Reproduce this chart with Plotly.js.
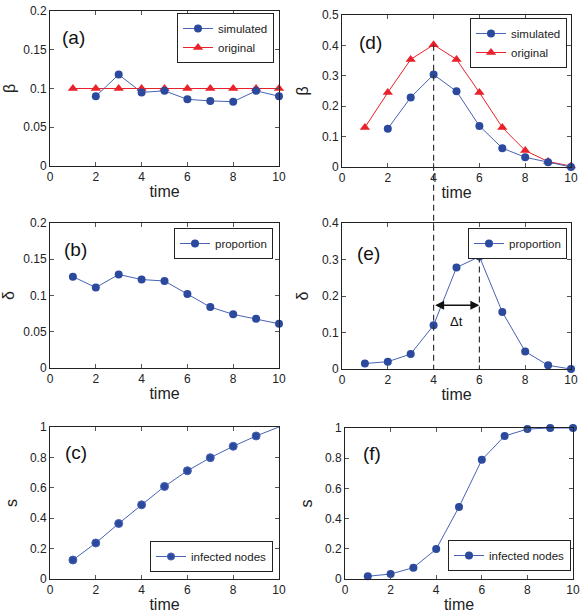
<!DOCTYPE html>
<html><head><meta charset="utf-8">
<script src="https://cdn.plot.ly/plotly-3.0.1.min.js"></script>
<style>html,body{margin:0;padding:0;background:#fff}</style>
</head><body><div id="chart" style="width:582px;height:613px"></div>
<script>
// ---- data ----
const time = [1,2,3,4,5,6,7,8,9,10];
const betaSimA  = [null,0.090,0.118,0.095,0.097,0.086,0.084,0.083,0.097,0.090];
const betaOrigA = [0.1,0.1,0.1,0.1,0.1,0.1,0.1,0.1,0.1,0.1];
const deltaB    = [0.126,0.111,0.129,0.122,0.120,0.102,0.084,0.074,0.068,0.061];
const sC        = [0.125,0.237,0.365,0.488,0.609,0.712,0.798,0.873,0.941,1.0];
const betaSimD  = [null,0.126,0.229,0.304,0.249,0.135,0.062,0.032,0.016,0.0];
const betaOrigD = [0.130,0.245,0.354,0.402,0.354,0.245,0.130,0.054,0.018,0.003];
const deltaE    = [0.015,0.020,0.041,0.120,0.278,0.308,0.156,0.048,0.010,0.0];
const sF        = [0.018,0.033,0.075,0.198,0.477,0.789,0.947,0.993,1.0,1.0];
const panelLabels = ['(a)','(b)','(c)','(d)','(e)','(f)'];
const yTitles = ['β','δ','s','β','δ','s'];
const xTitle = 'time';
const peakTime = 4, delayTime = 6;

// ---- layout geometry (pixels) ----
const W = 582, H = 613;
const boxes = {
  1:[50,279,11,166], 2:[50,279,223,368], 3:[50,279,427,579],
  4:[342,571,15,167], 5:[342,571,223,369], 6:[345,573,428,579]
};
const yRanges = {1:[0,0.2],2:[0,0.2],3:[0,1],4:[0,0.5],5:[0,0.4],6:[0,1]};
const yDticks = {1:0.05,2:0.05,3:0.2,4:0.1,5:0.1,6:0.2};
const yStand = {1:3,2:4,3:8,4:9,5:9,6:8};
const xDom = i => [boxes[i][0]/W, boxes[i][1]/W];
const yDom = i => [1-boxes[i][3]/H, 1-boxes[i][2]/H];

const BLUE = '#2b4a9e', BLUEL = '#4863b6', RED = '#e8212a', AX = '#222';
const FONT = 'Liberation Sans, Arial, Helvetica, sans-serif';

const layout = {
  width: W, height: H, margin:{l:0,r:0,t:0,b:0},
  paper_bgcolor:'#fff', plot_bgcolor:'#fff', showlegend:true,
  font:{family:FONT, color:AX, size:12},
  shapes:[], annotations:[]
};
for (let i=1;i<=6;i++){
  const xs = i===1?'':i, ys = i===1?'':i;
  layout['xaxis'+xs] = {
    domain:xDom(i), range:[0,10], dtick:2, tick0:0, anchor:'y'+ys,
    ticks:'inside', ticklen:4, tickcolor:'#555', showline:true, linecolor:AX, linewidth:1,
    mirror:'ticks', showgrid:false, zeroline:false, fixedrange:true,
    tickfont:{size:12,color:AX},
    title:{text:xTitle, font:{size:16,color:AX}, standoff:2}
  };
  layout['yaxis'+ys] = {
    domain:yDom(i), range:yRanges[i], dtick:yDticks[i], tick0:0, anchor:'x'+xs,
    ticks:'inside', ticklen:4, tickcolor:'#555', showline:true, linecolor:AX, linewidth:1,
    mirror:'ticks', showgrid:false, zeroline:false, fixedrange:true,
    tickfont:{size:12,color:AX},
    title:{text:yTitles[i-1], font:{size:16,color:AX}, standoff:yStand[i]}
  };
  layout.annotations.push({
    xref:(i===1?'x':'x'+i)+' domain', yref:(i===1?'y':'y'+i)+' domain',
    x:[0,0.042,0.052,0.057,0.065,0.055,0.072][i], y:[0,0.83,0.82,0.83,0.82,0.79,0.83][i],
    xanchor:'left', yanchor:'middle', showarrow:false, text:panelLabels[i-1],
    font:{size:19,color:'#111'}
  });
}

// legends
const legBase = {bgcolor:'#fff', bordercolor:AX, borderwidth:1, font:{size:11.5,color:AX},
  xanchor:'right', itemwidth:30, tracegroupgap:0};
layout.legend  = Object.assign({}, legBase, {x:274/W, y:1-13/H, yanchor:'top'});
layout.legend2 = Object.assign({}, legBase, {x:273/W, y:1-228/H, yanchor:'top'});
layout.legend3 = Object.assign({}, legBase, {x:273/W, y:1-572/H, yanchor:'bottom'});
layout.legend4 = Object.assign({}, legBase, {x:567/W, y:1-18/H, yanchor:'top'});
layout.legend5 = Object.assign({}, legBase, {x:567/W, y:1-228/H, yanchor:'top'});
layout.legend6 = Object.assign({}, legBase, {x:571/W, y:1-571/H, yanchor:'bottom'});

function blueTrace(y, i, name, leg, sizes){
  const xs = i===1?'':i;
  return {x:time, y:y, xaxis:'x'+xs, yaxis:'y'+xs, name:name, legend:leg,
    mode:'lines+markers', cliponaxis:false,
    line:{color:BLUEL,width:1}, marker:{symbol:'circle', size:sizes||8, color:BLUE, opacity:1}};
}
function redTrace(y, i, leg){
  const xs = i===1?'':i;
  return {x:time, y:y, xaxis:'x'+xs, yaxis:'y'+xs, name:'original', legend:leg,
    mode:'lines+markers', cliponaxis:false,
    line:{color:RED,width:1}, marker:{symbol:'triangle-up', size:9, color:RED}};
}
const sizesC = sC.map((v,k)=> k===sC.length-1 ? 0 : 8);
const data = [
  redTrace(betaOrigA,1,'legend'),
  blueTrace(betaSimA,1,'simulated','legend'),
  blueTrace(deltaB,2,'proportion','legend2'),
  blueTrace(sC,3,'infected nodes','legend3',sizesC),
  redTrace(betaOrigD,4,'legend4'),
  blueTrace(betaSimD,4,'simulated','legend4'),
  blueTrace(deltaE,5,'proportion','legend5'),
  blueTrace(sF,6,'infected nodes','legend6')
];
data[0].legendrank = 2; data[1].legendrank = 1;
data[4].legendrank = 2; data[5].legendrank = 1;

// dashed guide lines
function paperX(i, v){ const d=xDom(i); return d[0]+(v-0)/10*(d[1]-d[0]); }
function paperY(i, v){ const d=yDom(i), r=yRanges[i]; return d[0]+(v-r[0])/(r[1]-r[0])*(d[1]-d[0]); }
const peakIdx = time.indexOf(peakTime), delayIdx = time.indexOf(delayTime);
layout.shapes.push({type:'line', xref:'paper', yref:'paper',
  x0:paperX(4,peakTime), x1:paperX(4,peakTime),
  y0:paperY(4,betaOrigD[peakIdx]), y1:paperY(5,0),
  line:{color:'#333', width:1.2, dash:'6px,4px'}, layer:'above'});
layout.shapes.push({type:'line', xref:'x5', yref:'y5',
  x0:delayTime, x1:delayTime, y0:deltaE[delayIdx], y1:0,
  line:{color:'#333', width:1.2, dash:'6px,4px'}, layer:'above'});
// double arrow and Δt
layout.annotations.push({xref:'x5', yref:'y5', axref:'x5', ayref:'y5',
  x:delayTime, y:0.175, ax:peakTime, ay:0.175, text:'', showarrow:true,
  arrowside:'end+start', arrowhead:2, arrowsize:1.2, arrowwidth:1.5, arrowcolor:'#111'});
layout.annotations.push({xref:'x5', yref:'y5', x:(peakTime+delayTime)/2, y:0.13,
  text:'Δt', showarrow:false, font:{size:13,color:'#111'}});

Plotly.newPlot('chart', data, layout, {staticPlot:true, displayModeBar:false});
</script></body></html>
